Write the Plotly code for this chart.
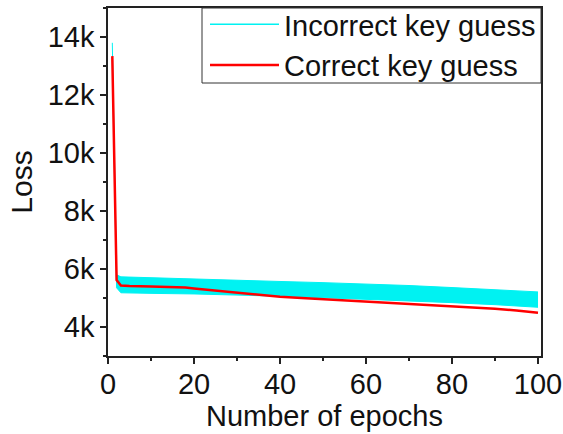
import plotly.graph_objects as go

# Incorrect key guesses: envelope of the band
band_epochs = [1, 2, 3, 5, 10, 20, 30, 40, 50, 60, 70, 80, 90, 100]
band_upper = [13800, 5800, 5730, 5720, 5700, 5650, 5610, 5570, 5530, 5490, 5430, 5360, 5290, 5210]
band_lower = [13200, 5350, 5180, 5170, 5160, 5140, 5110, 5060, 5010, 4960, 4900, 4840, 4770, 4680]

# Correct key guess
correct_epochs = [1, 2, 3, 5, 10, 15, 18, 20, 25, 30, 35, 40, 45, 50, 60, 70, 80, 90, 95, 100]
correct_loss = [13340, 5620, 5430, 5410, 5400, 5380, 5360, 5330, 5260, 5180, 5100, 5040, 5000, 4960,
                4870, 4800, 4730, 4630, 4570, 4490]

CYAN = "#00F2F2"
RED = "#FF0000"
FONT = "Liberation Sans, Arial, sans-serif"

fig = go.Figure()
fig.add_trace(go.Scatter(x=band_epochs, y=band_lower, mode="lines",
                         line=dict(color=CYAN, width=1), showlegend=False, hoverinfo="skip"))
fig.add_trace(go.Scatter(x=band_epochs, y=band_upper, mode="lines", fill="tonexty",
                         fillcolor=CYAN, line=dict(color=CYAN, width=1), showlegend=False))
fig.add_trace(go.Scatter(x=[None], y=[None], mode="lines", name="Incorrect key guess",
                         line=dict(color=CYAN, width=1.5)))
fig.add_trace(go.Scatter(x=correct_epochs, y=correct_loss, mode="lines", name="Correct key guess",
                         line=dict(color=RED, width=2.5)))

axis_common = dict(
    showgrid=False, zeroline=False, showline=True, linecolor="#222", linewidth=1.5,
    mirror=True, ticks="outside", ticklen=6, tickwidth=1.5, tickcolor="#222",
    tickfont=dict(family=FONT, size=29, color="#111"),
)

fig.update_xaxes(range=[0, 100.7], dtick=20, tick0=0, ticklabelstandoff=-5, automargin=False,
                 minor=dict(dtick=10, ticks="outside", ticklen=3, tickwidth=1.5, tickcolor="#222"),
                 title=dict(text="Number of epochs", font=dict(family=FONT, size=29, color="#111"),
                            standoff=2),
                 **axis_common)
fig.update_yaxes(range=[3000, 15000], dtick=2000, tick0=0, tickformat="~s", automargin=True,
                 minor=dict(dtick=1000, ticks="outside", ticklen=3, tickwidth=1.5, tickcolor="#222"),
                 title=dict(text="Loss", font=dict(family=FONT, size=30, color="#111"), standoff=6),
                 **axis_common)

# legend frame drawn as a shape (paper coordinates)
fig.add_shape(type="rect", xref="paper", yref="paper",
              x0=(202 - 108) / 433, x1=1.0, y0=(356 - 83) / 348, y1=1.0,
              fillcolor="white", line=dict(color="#333", width=1), layer="above")

fig.update_layout(
    width=563, height=434,
    margin=dict(l=108, r=22, t=8, b=78, autoexpand=False),
    paper_bgcolor="white", plot_bgcolor="white",
    font=dict(family=FONT, color="#111"),
    legend=dict(x=1, y=1 + 9 / 348, xanchor="right", yanchor="top", traceorder="normal",
                bgcolor="rgba(0,0,0,0)", borderwidth=0,
                font=dict(family=FONT, size=29, color="#111"),
                itemwidth=69, tracegroupgap=0),
)

fig.write_html("out.html")
